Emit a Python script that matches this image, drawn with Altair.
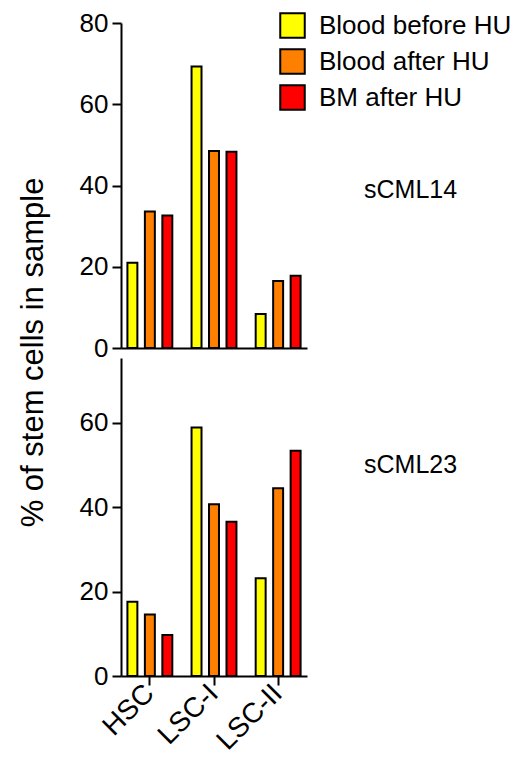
import altair as alt
import pandas as pd

groups = ["HSC", "LSC-I", "LSC-II"]
series = ["Blood before HU", "Blood after HU", "BM after HU"]
colors = ["#FFFF00", "#FF8000", "#FF0000"]

s14_blood_before = [21.0, 69.3, 8.4]
s14_blood_after = [33.6, 48.5, 16.5]
s14_bm_after = [32.6, 48.3, 17.8]

s23_blood_before = [17.6, 58.9, 23.2]
s23_blood_after = [14.6, 40.7, 44.5]
s23_bm_after = [9.7, 36.6, 53.4]

y_ticks_top = [0, 20, 40, 60, 80]
y_ticks_bottom = [0, 20, 40, 60]

FONT = "Liberation Sans"


def make_df(vals_list):
    rows = []
    for s, vals in zip(series, vals_list):
        for g, v in zip(groups, vals):
            rows.append({"group": g, "series": s, "value": v})
    return pd.DataFrame(rows)


df14 = make_df([s14_blood_before, s14_blood_after, s14_bm_after])
df23 = make_df([s23_blood_before, s23_blood_after, s23_bm_after])

W = 186


def panel(df, ymax, yticks, height, label, label_y, bottom):
    if bottom:
        xaxis = alt.Axis(title=None, labelAngle=-45, labelAlign="right",
                         labelBaseline="middle", ticks=True, labelPadding=4,
                         labelFontSize=28)
    else:
        xaxis = alt.Axis(title=None, labels=False, ticks=False)
    if bottom:
        yaxis = alt.Axis(values=yticks, title=None)
    else:
        yaxis = alt.Axis(values=yticks, title="% of stem cells in sample",
                         titleAngle=-90, titleX=-88, titleY=329,
                         titleAlign="center", titleBaseline="middle",
                         titleFontSize=31, titleFont=FONT,
                         titleFontWeight="normal", titleColor="black")
    bars = alt.Chart(df).mark_bar(stroke="black", strokeWidth=2).encode(
        x=alt.X("group:N", sort=groups,
                scale=alt.Scale(paddingInner=0.3, paddingOuter=0.1), axis=xaxis),
        xOffset=alt.XOffset("series:N", sort=series,
                            scale=alt.Scale(paddingInner=0.43, paddingOuter=0)),
        y=alt.Y("value:Q", scale=alt.Scale(domain=[0, ymax], nice=False, zero=True),
                axis=yaxis),
        color=alt.Color("series:N", sort=series,
                        scale=alt.Scale(domain=series, range=colors),
                        legend=alt.Legend(title=None)),
    )
    txt = alt.Chart(pd.DataFrame({"label": [label]})).mark_text(
        align="left", baseline="middle", fontSize=25, font=FONT, color="black"
    ).encode(x=alt.value(243), y=alt.value(label_y), text="label:N")
    return alt.layer(bars, txt).properties(width=W, height=height)


top = panel(df14, 80, y_ticks_top, 325, "sCML14", 167, False)
bottom = panel(df23, 75.4, y_ticks_bottom, 318, "sCML23", 107, True)

chart = alt.vconcat(top, bottom, spacing=10, bounds="flush").properties(
    padding={"left": 17, "top": 10, "right": 0, "bottom": 0}
).configure_view(stroke=None).configure_axis(
    domainColor="black", domainWidth=2, tickColor="black", tickWidth=2,
    tickSize=9, labelFont=FONT, labelFontSize=26, labelColor="black",
    grid=False, labelPadding=4
).configure_legend(
    orient="none", legendX=158, legendY=-11, symbolType="square",
    symbolSize=600, symbolStrokeColor="black", symbolStrokeWidth=2,
    labelFont=FONT, labelFontSize=26, labelColor="black", rowPadding=3,
    labelOffset=13, padding=0, symbolOpacity=1, labelLimit=0
)

chart.save("out.html", embed_options={"renderer": "svg", "actions": False})
